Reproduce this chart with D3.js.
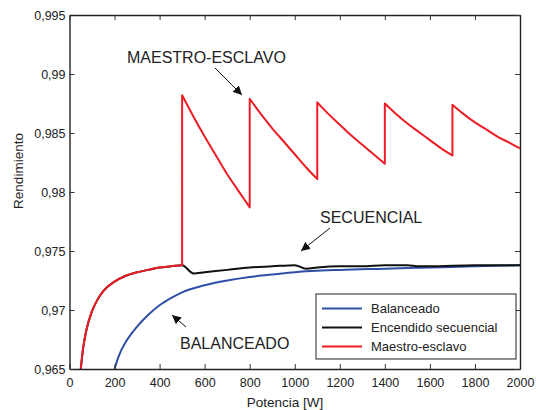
<!DOCTYPE html>
<html>
<head>
<meta charset="utf-8">
<script src="https://cdn.jsdelivr.net/npm/d3@7"></script>
<style>
  body { margin: 0; background: #fff; }
  svg text { font-family: "Liberation Sans", Arial, sans-serif; fill: #222; }
</style>
</head>
<body>
<div id="chart"></div>
<script>
// tick labels
var xTicks = [0, 200, 400, 600, 800, 1000, 1200, 1400, 1600, 1800, 2000];
var yTicks = [0.965, 0.97, 0.975, 0.98, 0.985, 0.99, 0.995];

// Balanceado (blue)
var balP   = [200, 215, 230, 250, 275, 300, 350, 400, 450, 500, 600, 700, 800, 900, 1000, 1200, 1400, 1600, 1800, 2000];
var balEff = [0.965, 0.9659, 0.9666, 0.9673, 0.9680, 0.9686, 0.9696, 0.9704, 0.9710, 0.9715, 0.9721, 0.9725, 0.9728, 0.9730, 0.9732, 0.9734, 0.9735, 0.9736, 0.9737, 0.9738];

// Encendido secuencial (black)
var secP   = [50, 60, 75, 100, 125, 150, 200, 250, 300, 350, 400, 450, 500, 550, 600, 700, 800, 900, 1000, 1050, 1100, 1200, 1300, 1400, 1500, 1550, 1600, 1800, 2000];
var secEff = [0.965, 0.9667, 0.9683, 0.9699, 0.9709, 0.9716, 0.9724, 0.9729, 0.9732, 0.9734, 0.9736, 0.9737, 0.9738, 0.9731, 0.9732, 0.9734, 0.9736, 0.9737, 0.9738, 0.9735, 0.9736, 0.9737, 0.9737, 0.9738, 0.9738, 0.9737, 0.9737, 0.9738, 0.9738];

// Maestro-esclavo (red), one row per piece between jumps
var mesP   = [50, 60, 75, 100, 125, 150, 200, 250, 300, 350, 400, 450, 500,
              500, 550, 600, 650, 700, 750, 800,
              800, 850, 900, 950, 1000, 1050, 1100,
              1100, 1150, 1200, 1250, 1300, 1350, 1400,
              1400, 1450, 1500, 1550, 1600, 1650, 1700,
              1700, 1750, 1800, 1850, 1900, 1950, 2000];
var mesEff = [0.965, 0.9667, 0.9683, 0.9699, 0.9709, 0.9716, 0.9724, 0.9729, 0.9732, 0.9734, 0.9736, 0.9737, 0.9738,
              0.9882, 0.9864, 0.9847, 0.9831, 0.9815, 0.9801, 0.9787,
              0.9879, 0.9866, 0.9854, 0.9843, 0.9832, 0.9821, 0.9811,
              0.9876, 0.9866, 0.9857, 0.9848, 0.9840, 0.9832, 0.9824,
              0.9875, 0.9866, 0.9858, 0.9851, 0.9844, 0.9837, 0.9831,
              0.9874, 0.9866, 0.9859, 0.9853, 0.9847, 0.9842, 0.9837];

var legendNames = ["Balanceado", "Encendido secuencial", "Maestro-esclavo"];
var colors = ["#2f4fa6", "#111111", "#ee1d25"];

var width = 539, height = 410;
var mLeft = 69.5, mRight = 520, mTop = 15, mBottom = 369;

var x = d3.scaleLinear().domain([0, 2000]).range([mLeft, mRight]);
var y = d3.scaleLinear().domain([0.965, 0.995]).range([mBottom, mTop]);

var svg = d3.select("#chart").append("svg")
  .attr("width", width)
  .attr("height", height);

var defs = svg.append("defs");
defs.append("clipPath").attr("id", "clip")
  .append("rect").attr("x", mLeft).attr("y", mTop)
  .attr("width", mRight - mLeft).attr("height", mBottom - mTop);
defs.append("marker")
  .attr("id", "arrow")
  .attr("viewBox", "0 0 10 10")
  .attr("refX", 10).attr("refY", 5)
  .attr("markerWidth", 9).attr("markerHeight", 9)
  .attr("markerUnits", "userSpaceOnUse")
  .attr("orient", "auto")
  .append("path").attr("d", "M0,0 L10,5 L0,10 z").attr("fill", "#111");

function zip(px, py) {
  return px.map(function(d, i) { return [d, py[i]]; });
}

// split where x repeats (vertical jumps), so each piece can be smoothed
function pieces(pts) {
  var out = [[pts[0]]];
  for (var i = 1; i < pts.length; i++) {
    if (pts[i][0] === pts[i - 1][0]) out.push([]);
    out[out.length - 1].push(pts[i]);
  }
  return out;
}

var line = d3.line()
  .curve(d3.curveMonotoneX)
  .x(function(d) { return x(d[0]); })
  .y(function(d) { return y(d[1]); });

function pathFor(pts) {
  return pieces(pts).map(function(p, i) {
    var s = line(p);
    return i ? "L" + s.slice(1) : s;
  }).join("");
}

var plot = svg.append("g").attr("clip-path", "url(#clip)");
[zip(balP, balEff), zip(secP, secEff), zip(mesP, mesEff)].forEach(function(s, i) {
  plot.append("path")
    .attr("fill", "none")
    .attr("stroke", colors[i])
    .attr("stroke-width", 2)
    .attr("stroke-linejoin", "round")
    .attr("d", pathFor(s));
});

// axes, ticks inside like matlab
var fmt = function(d) { return String(+d.toFixed(3)).replace(".", ","); };

svg.append("g")
  .attr("transform", "translate(0," + mBottom + ")")
  .call(d3.axisBottom(x).tickValues(xTicks).tickFormat(d3.format("d")).tickSizeInner(-5).tickSizeOuter(0).tickPadding(9));
svg.append("g")
  .attr("transform", "translate(" + mLeft + ",0)")
  .call(d3.axisLeft(y).tickValues(yTicks).tickFormat(fmt).tickSizeInner(-5).tickSizeOuter(0).tickPadding(4));
svg.append("g")
  .attr("transform", "translate(0," + mTop + ")")
  .call(d3.axisTop(x).tickValues(xTicks).tickFormat("").tickSizeInner(-5).tickSizeOuter(0));
svg.append("g")
  .attr("transform", "translate(" + mRight + ",0)")
  .call(d3.axisRight(y).tickValues(yTicks).tickFormat("").tickSizeInner(-5).tickSizeOuter(0));

svg.selectAll(".domain").attr("stroke", "#222").attr("stroke-width", 1.4);
svg.selectAll(".tick line").attr("stroke", "#333").attr("stroke-width", 1);
svg.selectAll(".tick text").attr("font-size", "12.5px").attr("fill", "#222")
  .style("font-family", "'Liberation Sans', Arial, sans-serif");

// axis titles
svg.append("text")
  .attr("x", 285).attr("y", 407)
  .attr("text-anchor", "middle").attr("font-size", "13.5px")
  .text("Potencia [W]");
svg.append("text")
  .attr("transform", "translate(23,171) rotate(-90)")
  .attr("text-anchor", "middle").attr("font-size", "13.5px")
  .text("Rendimiento");

// annotations
function note(label, tx, ty, a) {
  svg.append("text").attr("x", tx).attr("y", ty)
    .attr("font-size", "16px").text(label);
  svg.append("line")
    .attr("x1", a[0]).attr("y1", a[1]).attr("x2", a[2]).attr("y2", a[3])
    .attr("stroke", "#111").attr("stroke-width", 1)
    .attr("marker-end", "url(#arrow)");
}
note("MAESTRO-ESCLAVO", 127, 63, [215, 68, 242, 95]);
note("SECUENCIAL", 320, 223, [330, 228, 301, 251]);
note("BALANCEADO", 180, 349, [186, 327, 172, 315]);

// legend
var lg = svg.append("g");
lg.append("rect")
  .attr("x", 316).attr("y", 294).attr("width", 200).attr("height", 65)
  .attr("fill", "#fff").attr("stroke", "#222").attr("stroke-width", 1);
legendNames.forEach(function(name, i) {
  var ly = 308.5 + i * 19;
  lg.append("line")
    .attr("x1", 322).attr("x2", 362).attr("y1", ly).attr("y2", ly)
    .attr("stroke", colors[i]).attr("stroke-width", 2);
  lg.append("text")
    .attr("x", 371).attr("y", ly + 4.5)
    .attr("font-size", "13px").text(name);
});
</script>
</body>
</html>
